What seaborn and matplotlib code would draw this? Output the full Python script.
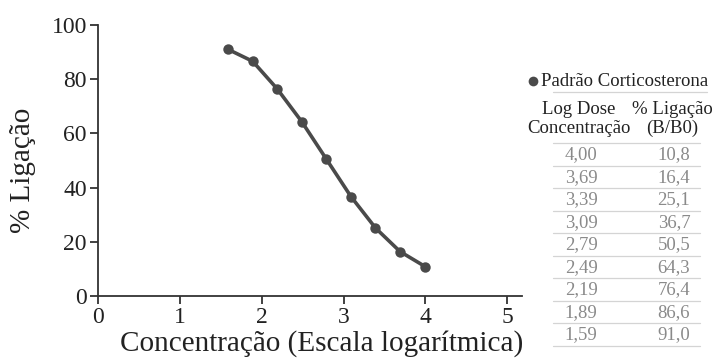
import pandas as pd
import seaborn as sns
import matplotlib.pyplot as plt
from matplotlib.lines import Line2D

# Standard curve data: log dose vs. % binding (B/B0)
log_dose = [4.00, 3.69, 3.39, 3.09, 2.79, 2.49, 2.19, 1.89, 1.59]
binding = [10.8, 16.4, 25.1, 36.7, 50.5, 64.3, 76.4, 86.6, 91.0]
x_ticks = [0, 1, 2, 3, 4, 5]
y_ticks = [0, 20, 40, 60, 80, 100]
series_name = "Padrão Corticosterona"
header_left = ["Log Dose", "Concentração"]
header_right = ["% Ligação", "(B/B0)"]
x_label = "Concentração (Escala logarítmica)"
y_label = "% Ligação"

sns.set_theme(style="ticks")
plt.rcParams["font.family"] = ["Liberation Serif", "DejaVu Serif"]

W, H = 713, 358
fig = plt.figure(figsize=(W / 100, H / 100), dpi=100)


def fx(px):
    return px / W


def fy(py):
    return 1 - py / H


dark = "#333333"
line_col = "#4a4a4a"
text_col = "#222222"

ax = fig.add_axes([fx(98), fy(296), fx(522) - fx(98), fy(25) - fy(296)])
df = pd.DataFrame({"dose": log_dose, "bind": binding})
sns.lineplot(data=df, x="dose", y="bind", ax=ax, color=line_col, lw=2.6,
             marker="o", markersize=7.5, markeredgewidth=0, sort=True)

ax.set_xlim(0, 5.18)
ax.set_ylim(0, 100)
ax.set_xticks(x_ticks)
ax.set_yticks(y_ticks)
ax.set_xlabel("")
ax.set_ylabel("")
sns.despine(ax=ax)
for s in ["left", "bottom"]:
    ax.spines[s].set_color(dark)
    ax.spines[s].set_linewidth(1.3)
ax.tick_params(axis="both", direction="out", length=6, width=1.3,
               color=dark, labelcolor=text_col, labelsize=17, pad=2)

# axis titles
fig.text(fx(322), fy(351), x_label, ha="center", va="baseline",
         fontsize=21, color=text_col)
fig.text(fx(23), fy(170), y_label, ha="center", va="center",
         rotation=90, fontsize=21, color=text_col)

# legend entry
fig.add_artist(Line2D([fx(533)], [fy(81)], marker="o", color=line_col,
                      markersize=7, markeredgewidth=0, linestyle="none"))
fig.text(fx(541), fy(81), series_name, ha="left", va="center",
         fontsize=13.5, color=text_col)

rule = "#d4d4d4"


def hrule(py, x0=553, x1=700):
    fig.add_artist(Line2D([fx(x0), fx(x1)], [fy(py), fy(py)],
                          color=rule, lw=0.9))


hrule(92, 553, 707)

# table header
c1, c2 = 579, 672
fig.text(fx(c1), fy(109), header_left[0], ha="center", va="center",
         fontsize=13.5, color=text_col)
fig.text(fx(c1), fy(128), header_left[1], ha="center", va="center",
         fontsize=13.5, color=text_col)
fig.text(fx(c2), fy(109), header_right[0], ha="center", va="center",
         fontsize=13.5, color=text_col)
fig.text(fx(c2), fy(128), header_right[1], ha="center", va="center",
         fontsize=13.5, color=text_col)
hrule(143)

# table rows
row_h = 22.5
for i, (d, b) in enumerate(zip(log_dose, binding)):
    yc = 155 + i * row_h
    fig.text(fx(581), fy(yc), f"{d:.2f}".replace(".", ","), ha="center",
             va="center", fontsize=13.5, color="#8a8a8a")
    fig.text(fx(674), fy(yc), f"{b:.1f}".replace(".", ","), ha="center",
             va="center", fontsize=13.5, color="#8a8a8a")
    hrule(143 + (i + 1) * row_h)

fig.savefig("out.png", dpi=100)
